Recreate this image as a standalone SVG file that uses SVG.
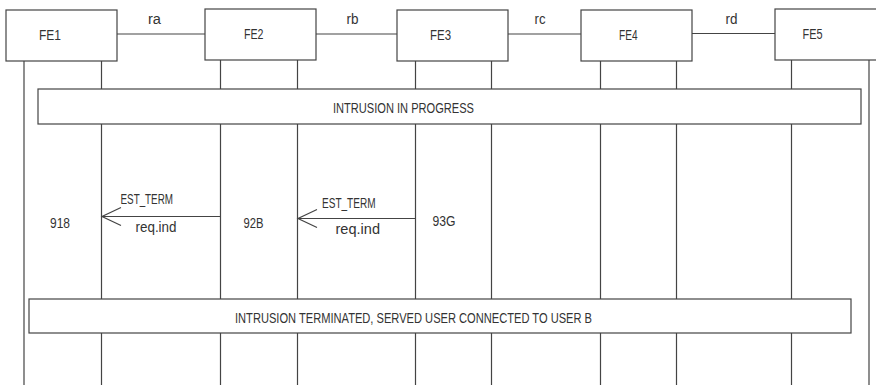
<svg xmlns="http://www.w3.org/2000/svg" width="876" height="385" viewBox="0 0 876 385">
<style>
.box{fill:#fff;stroke:#444;stroke-width:1.2}
.ln{stroke:#444;stroke-width:1.2;fill:none}
.t{font-family:"Liberation Sans",Arial,sans-serif;font-size:14px;fill:#333}
.m{text-anchor:middle}
</style>
<defs>
<marker id="open" markerWidth="24" markerHeight="24" refX="21" refY="11" orient="auto" markerUnits="userSpaceOnUse">
<path d="M2,2 L21,11 L2,20" fill="none" stroke="#444" stroke-width="1.2"/>
</marker>
</defs>
<g id="connectors">
<line class="ln" x1="24" y1="61" x2="24" y2="385"/>
<line class="ln" x1="101.5" y1="61" x2="101.5" y2="385"/>
<line class="ln" x1="220.5" y1="60" x2="220.5" y2="385"/>
<line class="ln" x1="297.5" y1="60" x2="297.5" y2="385"/>
<line class="ln" x1="415.5" y1="61" x2="415.5" y2="385"/>
<line class="ln" x1="491.5" y1="61" x2="491.5" y2="385"/>
<line class="ln" x1="600.5" y1="61" x2="600.5" y2="385"/>
<line class="ln" x1="676.5" y1="61" x2="676.5" y2="385"/>
<line class="ln" x1="791.5" y1="60" x2="791.5" y2="385"/>
<line class="ln" x1="869" y1="60" x2="869" y2="385"/>
<line class="ln" x1="117" y1="34" x2="205" y2="34"/>
<line class="ln" x1="316" y1="34" x2="397" y2="34"/>
<line class="ln" x1="508" y1="34" x2="581" y2="34"/>
<line class="ln" x1="692" y1="33.5" x2="775" y2="33.5"/>
<text class="t" x="148" y="24" textLength="13" lengthAdjust="spacingAndGlyphs">ra</text>
<text class="t" x="346.5" y="24" textLength="12" lengthAdjust="spacingAndGlyphs">rb</text>
<text class="t" x="534.5" y="24" textLength="11" lengthAdjust="spacingAndGlyphs">rc</text>
<text class="t" x="725.5" y="24" textLength="12" lengthAdjust="spacingAndGlyphs">rd</text>
<line class="ln" x1="220.5" y1="216.5" x2="102" y2="216.5" marker-end="url(#open)"/>
<line class="ln" x1="415.5" y1="218.5" x2="298" y2="218.5" marker-end="url(#open)"/>
<text class="t" x="120.5" y="204" textLength="52.5" lengthAdjust="spacingAndGlyphs">EST_TERM</text>
<text class="t" x="135.5" y="232" textLength="41" lengthAdjust="spacingAndGlyphs">req.ind</text>
<text class="t" x="322" y="207.5" textLength="53.5" lengthAdjust="spacingAndGlyphs">EST_TERM</text>
<text class="t" x="335.5" y="234" textLength="44.5" lengthAdjust="spacingAndGlyphs">req.ind</text>
</g>
<g id="FE1"><rect class="box" x="6" y="10" width="111" height="51"/><text class="t" x="39" y="39.5" textLength="22" lengthAdjust="spacingAndGlyphs">FE1</text></g>
<g id="FE2"><rect class="box" x="205" y="9" width="111" height="51"/><text class="t" x="244" y="39" textLength="19.5" lengthAdjust="spacingAndGlyphs">FE2</text></g>
<g id="FE3"><rect class="box" x="397" y="10" width="111" height="51"/><text class="t" x="430" y="39.5" textLength="21" lengthAdjust="spacingAndGlyphs">FE3</text></g>
<g id="FE4"><rect class="box" x="581" y="10" width="111" height="51"/><text class="t" x="619" y="39.5" textLength="18.5" lengthAdjust="spacingAndGlyphs">FE4</text></g>
<g id="FE5"><rect class="box" x="775" y="9" width="111" height="51"/><text class="t" x="802.5" y="39" textLength="20" lengthAdjust="spacingAndGlyphs">FE5</text></g>
<g id="state918"><text class="t" x="50" y="228" textLength="20" lengthAdjust="spacingAndGlyphs">918</text></g>
<g id="state92B"><text class="t" x="243.5" y="228" textLength="20" lengthAdjust="spacingAndGlyphs">92B</text></g>
<g id="state93G"><text class="t" x="432.5" y="225.5" textLength="23" lengthAdjust="spacingAndGlyphs">93G</text></g>
<g id="intrusion-in-progress"><rect class="box" x="38" y="89" width="823" height="35"/><text class="t" x="333" y="113" textLength="141" lengthAdjust="spacingAndGlyphs">INTRUSION IN PROGRESS</text></g>
<g id="intrusion-terminated"><rect class="box" x="29" y="299" width="822" height="34"/><text class="t" x="235" y="323" textLength="357" lengthAdjust="spacingAndGlyphs">INTRUSION TERMINATED, SERVED USER CONNECTED TO USER B</text></g>
</svg>
